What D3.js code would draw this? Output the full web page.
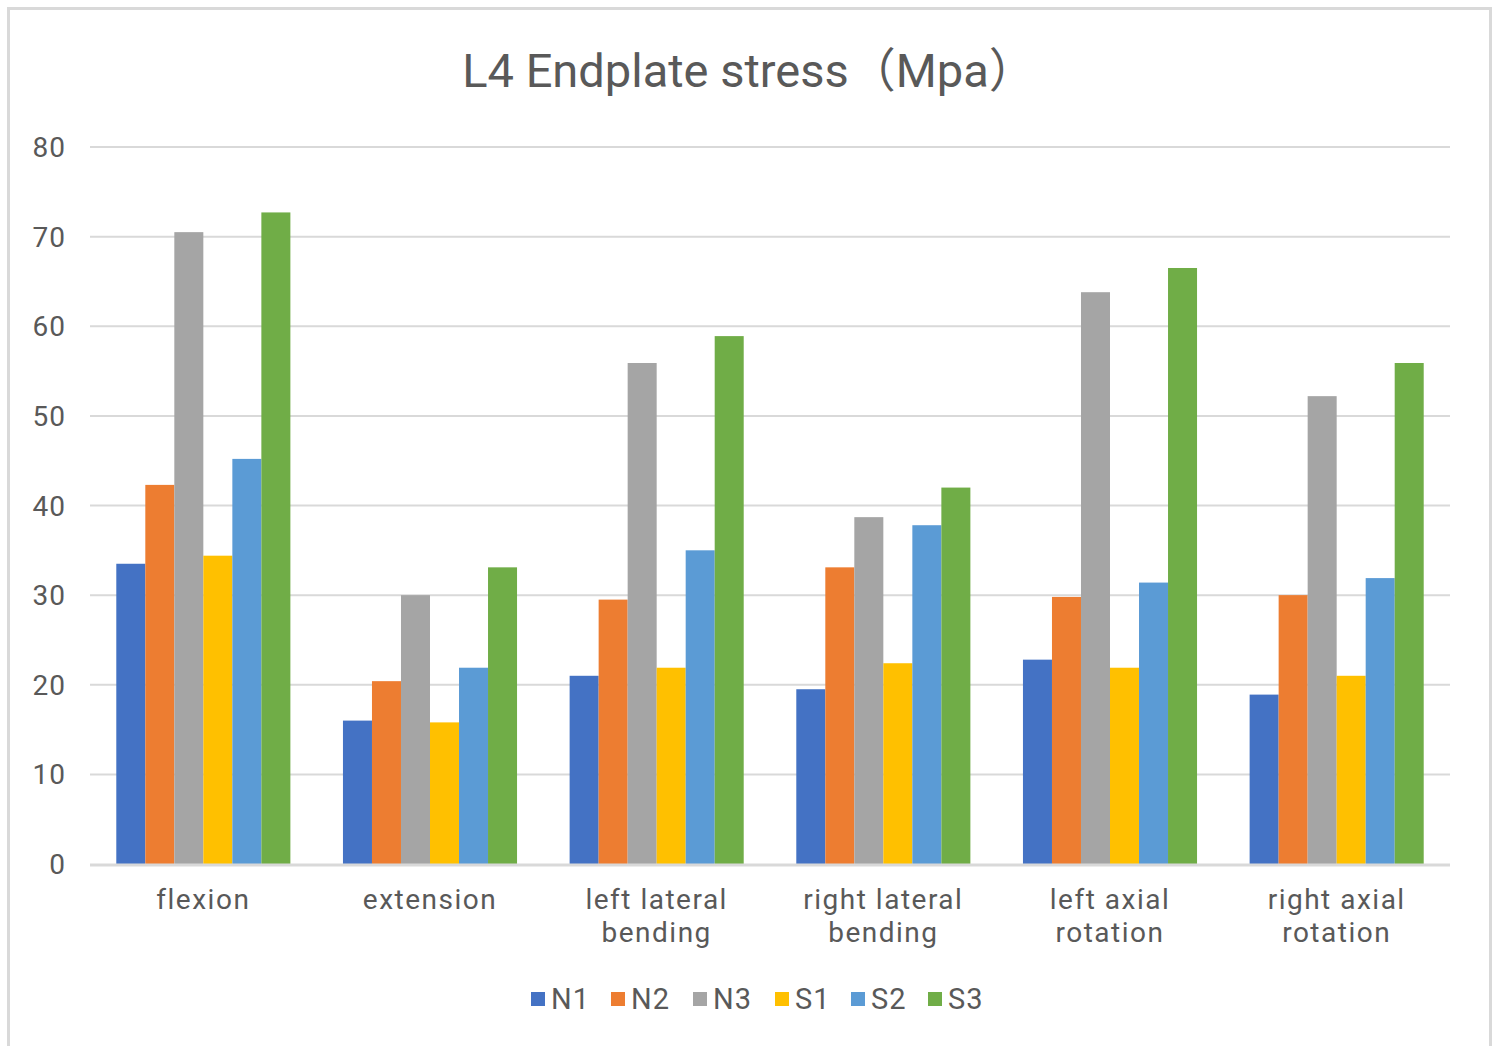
<!DOCTYPE html>
<html lang="en">
<head>
    <meta charset="UTF-8">
    <title>L4 Endplate stress</title>
    <script src="https://d3js.org/d3.v7.js"></script>
    <style>
        body { margin: 0; background: #fff; }
        text { font-family: Roboto, "Noto Sans CJK SC", sans-serif; fill: #595959; }
    </style>
</head>
<body>
<svg></svg>
<script>
    // categories (x axis), split over two lines like the original
    let categories = [
        ["flexion"],
        ["extension"],
        ["left lateral", "bending"],
        ["right lateral", "bending"],
        ["left axial", "rotation"],
        ["right axial", "rotation"]
    ];
    let seriesNames = ["N1", "N2", "N3", "S1", "S2", "S3"];
    let colors = ["#4472c4", "#ed7d31", "#a5a5a5", "#ffc000", "#5b9bd5", "#70ad47"];

    // values per series, one per category
    let N1 = [33.5, 16.0, 21.0, 19.5, 22.8, 18.9];
    let N2 = [42.3, 20.4, 29.5, 33.1, 29.8, 30.0];
    let N3 = [70.5, 30.0, 55.9, 38.7, 63.8, 52.2];
    let S1 = [34.4, 15.8, 21.9, 22.4, 21.9, 21.0];
    let S2 = [45.2, 21.9, 35.0, 37.8, 31.4, 31.9];
    let S3 = [72.7, 33.1, 58.9, 42.0, 66.5, 55.9];
    let yTicks = [0, 10, 20, 30, 40, 50, 60, 70, 80];

    let series = [N1, N2, N3, S1, S2, S3];

    let width = 1499;
    let height = 1046;
    let plotLeft = 90, plotRight = 1450, plotTop = 147, plotBottom = 864;

    let svg = d3.select("svg")
        .attr("width", width)
        .attr("height", height);

    // outer frame (no bottom edge visible in the picture)
    svg.append("path")
        .attr("d", "M8.5," + height + "V8.5H1490.5V" + height)
        .attr("fill", "none")
        .attr("stroke", "#d9d9d9")
        .attr("stroke-width", 3);

    svg.append("text")
        .attr("x", 749)
        .attr("y", 87)
        .attr("text-anchor", "middle")
        .style("font-size", "47px")
        .text("L4 Endplate stress\uff08Mpa\uff09");

    let x0 = d3.scaleBand()
        .domain(d3.range(categories.length))
        .range([plotLeft, plotRight])
        .paddingInner(0.232)
        .paddingOuter(0.116);

    let x1 = d3.scaleBand()
        .domain(d3.range(seriesNames.length))
        .range([0, x0.bandwidth()]);

    let y = d3.scaleLinear()
        .domain([0, 80])
        .range([plotBottom, plotTop]);

    // gridlines
    svg.append("g")
        .selectAll("line")
        .data(yTicks.slice(1))
        .enter()
        .append("line")
        .attr("x1", plotLeft)
        .attr("x2", plotRight)
        .attr("y1", d => y(d))
        .attr("y2", d => y(d))
        .attr("stroke", "#d9d9d9")
        .attr("stroke-width", 2);

    // y tick labels
    svg.append("g")
        .selectAll("text")
        .data(yTicks)
        .enter()
        .append("text")
        .attr("x", 66)
        .attr("y", d => y(d))
        .attr("dy", "0.36em")
        .attr("text-anchor", "end")
        .style("font-size", "28px")
        .style("letter-spacing", "1px")
        .text(d => d);

    // bars
    let groups = svg.append("g")
        .selectAll("g")
        .data(categories)
        .enter()
        .append("g")
        .attr("transform", (d, i) => "translate(" + x0(i) + ",0)");

    groups.selectAll("rect")
        .data((d, i) => series.map((s, j) => ({ s: j, v: s[i] })))
        .enter()
        .append("rect")
        .attr("x", d => x1(d.s))
        .attr("width", x1.bandwidth())
        .attr("y", d => y(d.v))
        .attr("height", d => y(0) - y(d.v))
        .attr("fill", d => colors[d.s]);

    // x axis line
    svg.append("line")
        .attr("x1", plotLeft)
        .attr("x2", plotRight)
        .attr("y1", plotBottom + 1)
        .attr("y2", plotBottom + 1)
        .attr("stroke", "#d9d9d9")
        .attr("stroke-width", 3);

    // category labels, one text per line
    let labelGroups = svg.append("g")
        .selectAll("g")
        .data(categories)
        .enter()
        .append("g")
        .attr("transform", (d, i) => "translate(" + (x0(i) + x0.bandwidth() / 2) + ",0)");

    labelGroups.selectAll("text")
        .data(d => d)
        .enter()
        .append("text")
        .attr("y", (d, i) => 909 + i * 33)
        .attr("text-anchor", "middle")
        .style("font-size", "28px")
        .style("letter-spacing", "1.5px")
        .text(d => d);

    // legend
    let legendX = [531, 611, 693, 775, 851, 928];
    let legend = svg.append("g")
        .selectAll("g")
        .data(seriesNames)
        .enter()
        .append("g")
        .attr("transform", (d, i) => "translate(" + legendX[i] + ",992)");

    legend.append("rect")
        .attr("width", 14)
        .attr("height", 14)
        .attr("fill", (d, i) => colors[i]);

    legend.append("text")
        .attr("x", 20)
        .attr("y", 7)
        .attr("dy", "0.36em")
        .style("font-size", "29px")
        .style("letter-spacing", "1px")
        .text(d => d);
</script>
</body>
</html>
